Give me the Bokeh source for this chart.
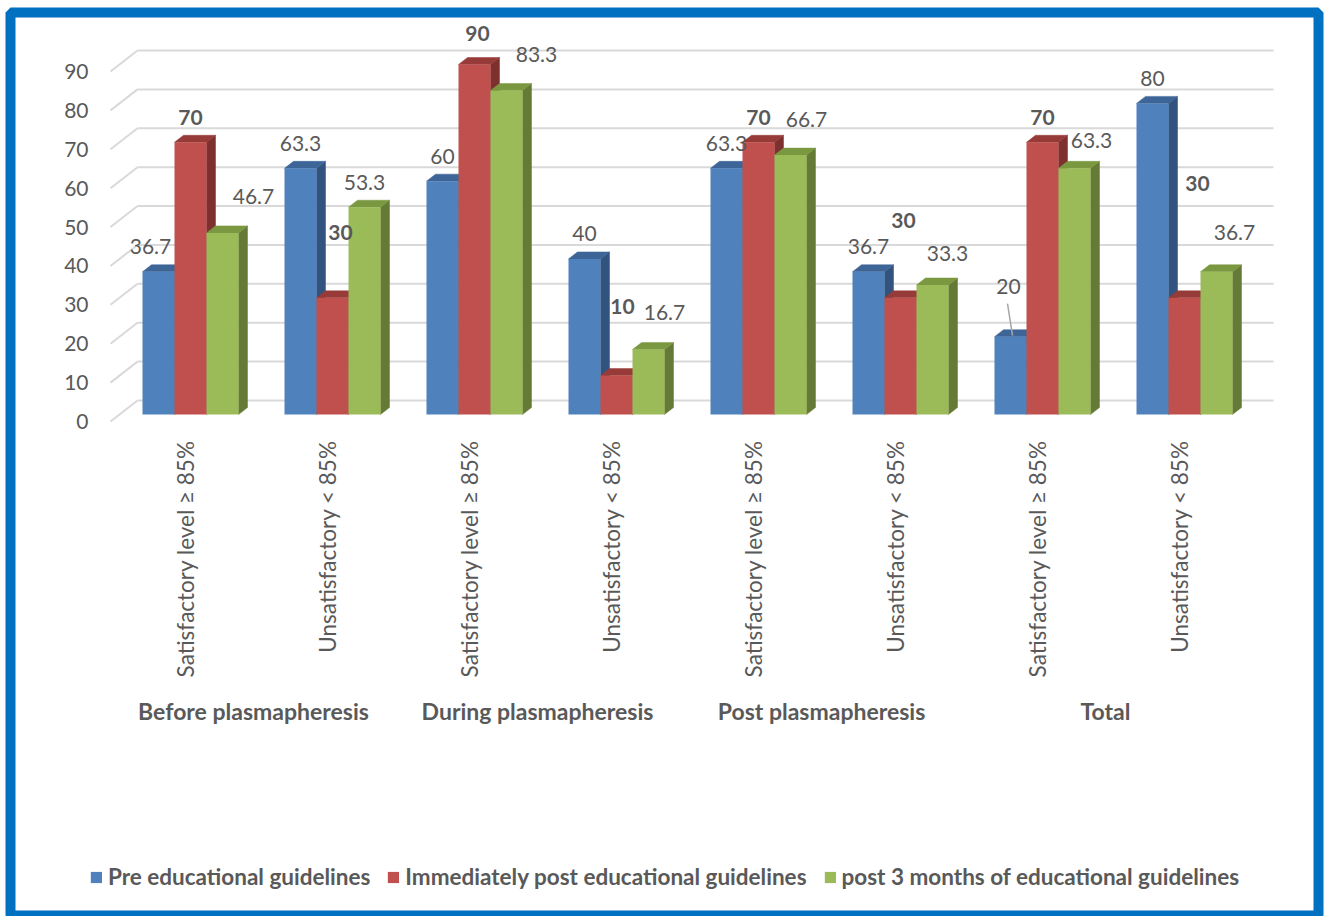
import numpy as np
from bokeh.plotting import figure
from bokeh.models import Range1d, Legend, LegendItem, ColumnDataSource
from bokeh.core.properties import value
from bokeh.embed import file_html
from bokeh.resources import INLINE

# ---------------- data ----------------
categories = ["Satisfactory level \u2265 85%", "Unsatisfactory < 85%",
              "Satisfactory level \u2265 85%", "Unsatisfactory < 85%",
              "Satisfactory level \u2265 85%", "Unsatisfactory < 85%",
              "Satisfactory level \u2265 85%", "Unsatisfactory < 85%"]
groups = ["Before plasmapheresis", "During plasmapheresis", "Post plasmapheresis", "Total"]
series_names = ["Pre educational guidelines",
                "Immediately post educational guidelines",
                "post 3 months of educational guidelines"]
pre_values = [36.7, 63.3, 60, 40, 63.3, 36.7, 20, 80]
immediate_values = [70, 30, 90, 10, 70, 30, 70, 30]
post3_values = [46.7, 53.3, 83.3, 16.7, 66.7, 33.3, 63.3, 36.7]
y_ticks = [0, 10, 20, 30, 40, 50, 60, 70, 80, 90]

# ---------------- layout / style ----------------
W, H = 1324, 916
FRAME_L, FRAME_R, FRAME_T, FRAME_B = 10, 1318, 12, 916
CX0, GP, Y0, K = 190, 142, 414, 350 / 90     # px position / px per category / baseline px / px per unit
SX, SY = 1 / GP, 1 / K                        # data units per pixel
BAR_W = 32 * SX
DDX, DDY = 9 * SX, 7 * SY                     # 3D depth step
FONT = "Lato"
TXT = "#595959"
GRID = "#D9D9D9"
front_colors = ["#4F81BD", "#C0504D", "#9BBB59"]
top_colors = ["#3D6597", "#973B39", "#7A9840"]
side_colors = ["#32537D", "#7E302E", "#667A37"]
# label nudges (px right, px up) relative to the default spot above each bar
label_nudges = [
    [(-8, 0), (0, 0), (0, 0), (0, 0), (0, 0), (0, 0), (-2, 25), (0, 0)],
    [(0, 0), (8, 40), (3, 6), (6, 44), (0, 0), (3, 52), (0, 0), (13, 89)],
    [(31, 11), (0, 0), (30, 11), (16, 12), (16, 11), (15, 7), (17, 3), (18, 14)],
]

series = [pre_values, immediate_values, post3_values]
n = len(categories)

p = figure(width=W, height=H, output_backend="svg", toolbar_location=None,
           x_range=Range1d((FRAME_L - CX0) / GP, (FRAME_R - CX0) / GP),
           y_range=Range1d((Y0 - FRAME_B) / K, (Y0 - FRAME_T) / K),
           x_axis_type=None, y_axis_type=None,
           min_border_left=FRAME_L, min_border_right=W - FRAME_R,
           min_border_top=FRAME_T, min_border_bottom=H - FRAME_B)
p.outline_line_color = "#0070C0"
p.outline_line_width = 10
p.background_fill_color = "white"
p.border_fill_color = "white"

# ---------------- walls / gridlines ----------------
x_left = -0.5
x_right = n - 0.5
gx, gy = [], []
for t in y_ticks:
    gx.append([x_left + 2 * DDX, x_right + 2 * DDX])
    gy.append([t + 2 * DDY, t + 2 * DDY])
    gx.append([x_left - DDX, x_left + 2 * DDX])
    gy.append([t - DDY, t + 2 * DDY])
p.multi_line(gx, gy, line_color=GRID, line_width=2)

p.text(x=[x_left - DDX - 22 * SX] * len(y_ticks), y=[t - DDY for t in y_ticks],
       text=[str(t) for t in y_ticks], text_align="right", text_baseline="middle",
       text_font=value(FONT), text_font_size="21px", text_color=TXT)

# ---------------- 3D bars ----------------
side_xs, side_ys, side_c = [], [], []
top_xs, top_ys, top_c = [], [], []
fronts = []
for j, vals in enumerate(series):
    lefts, rights, tops = [], [], []
    for i, v in enumerate(vals):
        x0 = i - 1.5 * BAR_W + j * BAR_W
        x1 = x0 + BAR_W
        side_xs.append([x1, x1, x1 + DDX, x1 + DDX])
        side_ys.append([0, v, v + DDY, DDY])
        side_c.append(side_colors[j])
        top_xs.append([x0, x1, x1 + DDX, x0 + DDX])
        top_ys.append([v, v, v + DDY, v + DDY])
        top_c.append(top_colors[j])
        lefts.append(x0); rights.append(x1); tops.append(v)
    fronts.append((lefts, rights, tops))

p.patches(side_xs, side_ys, fill_color=side_c, line_color=side_c, line_width=0.5)
p.patches(top_xs, top_ys, fill_color=top_c, line_color=top_c, line_width=0.5)
front_renderers = []
for j, (lefts, rights, tops) in enumerate(fronts):
    src = ColumnDataSource(dict(left=lefts, right=rights, top=tops, bottom=[0] * n))
    r = p.quad(left="left", right="right", top="top", bottom="bottom", source=src,
               fill_color=front_colors[j], line_color=None)
    front_renderers.append(r)

# ---------------- data labels ----------------
for j, vals in enumerate(series):
    lx, ly, lt = [], [], []
    for i, v in enumerate(vals):
        cx = i - 1.5 * BAR_W + (j + 0.5) * BAR_W
        dx, dy = label_nudges[j][i]
        lx.append(cx + dx * SX)
        ly.append(v + (25 + dy) * SY)
        lt.append(f"{v:g}")
        if j == 0 and i == 6:
            # leader line for the displaced label
            p.segment(x0=[cx + (dx - 1) * SX], y0=[v + (25 + dy - 17) * SY],
                      x1=[cx + 2 * SX], y1=[v + 1 * SY], line_color="#A6A6A6", line_width=1.5)
    p.text(x=lx, y=ly, text=lt, text_align="center", text_baseline="middle",
           text_font=value(FONT), text_font_size="21px", text_color=TXT,
           text_font_style="bold" if j == 1 else "normal")

# ---------------- category & group labels ----------------
p.text(x=[i - 5 * SX for i in range(n)], y=[-26 * SY] * n, text=categories,
       angle=np.pi / 2, text_align="right", text_baseline="middle",
       text_font=value(FONT), text_font_size="22.5px", text_color=TXT)
p.text(x=[2 * g + 0.5 - 8 * SX for g in range(len(groups))], y=[-296 * SY] * len(groups),
       text=groups, text_align="center", text_baseline="middle",
       text_font=value(FONT), text_font_size="23px", text_font_style="bold", text_color=TXT)

# ---------------- legend ----------------
legend = Legend(items=[LegendItem(label=series_names[j], renderers=[front_renderers[j]])
                       for j in range(3)],
                orientation="horizontal", location="bottom_center",
                glyph_width=14, glyph_height=14, label_standoff=5, spacing=16,
                padding=0, margin=26, border_line_color=None, background_fill_alpha=0,
                label_text_font=FONT, label_text_font_size="22.5px",
                label_text_font_style="bold", label_text_color=TXT)
p.add_layout(legend)

open("out.html", "w").write(file_html(p, INLINE))
